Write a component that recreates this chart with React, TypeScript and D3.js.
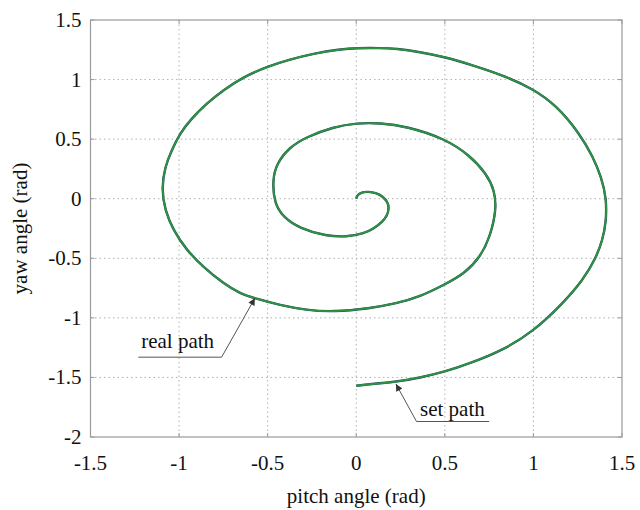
import React, { useEffect, useRef } from "react";
import * as d3 from "d3";

const pitch = [
  0.0, 0.005, 0.03, 0.067, 0.11, 0.15, 0.178, 0.185, 0.175, 0.15, 0.1, 0.04, -0.055, -0.168,
  -0.319, -0.413, -0.462, -0.473, -0.45, -0.375, -0.281, -0.131, 0.005, 0.133, 0.283, 0.499,
  0.64, 0.734, 0.781, 0.791, 0.755, 0.7, 0.61, 0.5, 0.358, 0.227, 0.076, -0.131, -0.281,
  -0.431, -0.572, -0.657, -0.751, -0.864, -0.958, -1.033, -1.08, -1.099, -1.08, -1.042, -0.995,
  -0.935, -0.845, -0.751, -0.638, -0.497, -0.375, -0.244, -0.093, 0.005, 0.133, 0.227, 0.358,
  0.499, 0.659, 0.828, 0.997, 1.129, 1.261, 1.336, 1.383, 1.413, 1.41, 1.39, 1.352, 1.279,
  1.166, 0.997, 0.828, 0.64, 0.499, 0.358, 0.227, 0.076, 0.0,
];
const yaw = [
  0.0, 0.03, 0.055, 0.06, 0.05, 0.02, -0.03, -0.08, -0.14, -0.19, -0.25, -0.295, -0.32, -0.315,
  -0.25, -0.153, -0.04, 0.155, 0.295, 0.435, 0.518, 0.602, 0.636, 0.636, 0.608, 0.505,
  0.365, 0.211, 0.071, -0.096, -0.32, -0.49, -0.63, -0.72, -0.824, -0.879, -0.921, -0.95, -0.935,
  -0.893, -0.837, -0.795, -0.711, -0.572, -0.432, -0.264, -0.096, 0.085, 0.267, 0.407, 0.547,
  0.665, 0.799, 0.91, 1.022, 1.112, 1.168, 1.218, 1.254, 1.265, 1.265, 1.26, 1.232,
  1.19, 1.12, 1.036, 0.924, 0.784, 0.547, 0.351, 0.183, 0.0, -0.2, -0.348, -0.502, -0.684,
  -0.879, -1.117, -1.271, -1.383, -1.453, -1.503, -1.537, -1.556, -1.57,
];

const xTicks = [-1.5, -1, -0.5, 0, 0.5, 1, 1.5];
const yTicks = [-2, -1.5, -1, -0.5, 0, 0.5, 1, 1.5];

const W = 640;
const H = 510;
const margin = { top: 20, right: 18, bottom: 73, left: 90.5 };
const FONT = "'Liberation Serif', 'Times New Roman', serif";

export default function App() {
  const ref = useRef<SVGSVGElement>(null);

  useEffect(() => {
    if (!ref.current) return;
    const svg = d3.select(ref.current);
    svg.selectAll("*").remove();

    const iw = W - margin.left - margin.right;
    const ih = H - margin.top - margin.bottom;

    const x = d3.scaleLinear().domain([-1.5, 1.5]).range([0, iw]);
    const y = d3.scaleLinear().domain([-2, 1.5]).range([ih, 0]);

    const defs = svg.append("defs");
    defs
      .append("marker")
      .attr("id", "arrow")
      .attr("viewBox", "0 0 10 10")
      .attr("refX", 10)
      .attr("refY", 5)
      .attr("markerWidth", 9)
      .attr("markerHeight", 7)
      .attr("markerUnits", "userSpaceOnUse")
      .attr("orient", "auto")
      .append("path")
      .attr("d", "M0,0 L10,5 L0,10 z")
      .attr("fill", "#333");

    const g = svg.append("g").attr("transform", `translate(${margin.left},${margin.top})`);

    // grid
    g.selectAll(".gx")
      .data(xTicks.slice(1, -1))
      .join("line")
      .attr("x1", (d) => x(d))
      .attr("x2", (d) => x(d))
      .attr("y1", 0)
      .attr("y2", ih)
      .attr("stroke", "#b0b0b0")
      .attr("stroke-dasharray", "1.5,3");
    g.selectAll(".gy")
      .data(yTicks.slice(1, -1))
      .join("line")
      .attr("y1", (d) => y(d))
      .attr("y2", (d) => y(d))
      .attr("x1", 0)
      .attr("x2", iw)
      .attr("stroke", "#b0b0b0")
      .attr("stroke-dasharray", "1.5,3");

    // frame
    g.append("rect")
      .attr("width", iw)
      .attr("height", ih)
      .attr("fill", "none")
      .attr("stroke", "#9a9a9a")
      .attr("stroke-width", 1.2);

    // tick marks inside, all four sides
    const tl = 4;
    xTicks.forEach((t) => {
      g.append("line").attr("x1", x(t)).attr("x2", x(t)).attr("y1", ih).attr("y2", ih - tl).attr("stroke", "#9a9a9a");
      g.append("line").attr("x1", x(t)).attr("x2", x(t)).attr("y1", 0).attr("y2", tl).attr("stroke", "#9a9a9a");
    });
    yTicks.forEach((t) => {
      g.append("line").attr("y1", y(t)).attr("y2", y(t)).attr("x1", 0).attr("x2", tl).attr("stroke", "#9a9a9a");
      g.append("line").attr("y1", y(t)).attr("y2", y(t)).attr("x1", iw).attr("x2", iw - tl).attr("stroke", "#9a9a9a");
    });

    // tick labels
    g.selectAll(".xl")
      .data(xTicks)
      .join("text")
      .attr("x", (d) => x(d))
      .attr("y", ih + 33)
      .attr("text-anchor", "middle")
      .attr("font-family", FONT)
      .attr("font-size", 21)
      .attr("fill", "#111")
      .text((d) => String(d));
    g.selectAll(".yl")
      .data(yTicks)
      .join("text")
      .attr("x", -9)
      .attr("y", (d) => y(d) + 7)
      .attr("text-anchor", "end")
      .attr("font-family", FONT)
      .attr("font-size", 21)
      .attr("fill", "#111")
      .text((d) => String(d));

    // axis titles
    g.append("text")
      .attr("x", iw / 2)
      .attr("y", ih + 66)
      .attr("text-anchor", "middle")
      .attr("font-family", FONT)
      .attr("font-size", 21)
      .attr("fill", "#111")
      .text("pitch angle (rad)");
    g.append("text")
      .attr("transform", `translate(${-margin.left + 27},${ih / 2}) rotate(-90)`)
      .attr("text-anchor", "middle")
      .attr("font-family", FONT)
      .attr("font-size", 21)
      .attr("fill", "#111")
      .text("yaw angle (rad)");

    // paths
    const pts: [number, number][] = pitch.map((p, i) => [p, yaw[i]]);
    const line = d3
      .line<[number, number]>()
      .x((d) => x(d[0]))
      .y((d) => y(d[1]))
      .curve(d3.curveBasis);

    g.append("path")
      .attr("d", line(pts))
      .attr("fill", "none")
      .attr("stroke", "#1f4d55")
      .attr("stroke-width", 2.4);
    g.append("path")
      .attr("d", line(pts))
      .attr("fill", "none")
      .attr("stroke", "#2e9342")
      .attr("stroke-width", 1.8);

    // annotations
    const annot = (
      label: string,
      tx: number,
      ty: number,
      ux0: number,
      ux1: number,
      uy: number,
      from: [number, number],
      tip: [number, number]
    ) => {
      g.append("line")
        .attr("x1", x(ux0))
        .attr("x2", x(ux1))
        .attr("y1", y(uy))
        .attr("y2", y(uy))
        .attr("stroke", "#555")
        .attr("stroke-width", 1);
      g.append("line")
        .attr("x1", x(from[0]))
        .attr("y1", y(from[1]))
        .attr("x2", x(tip[0]))
        .attr("y2", y(tip[1]))
        .attr("stroke", "#555")
        .attr("stroke-width", 1)
        .attr("marker-end", "url(#arrow)");
      g.append("text")
        .attr("x", x(tx))
        .attr("y", y(ty))
        .attr("font-family", FONT)
        .attr("font-size", 21)
        .attr("fill", "#111")
        .text(label);
    };

    annot("real path", -1.214, -1.253, -1.23, -0.76, -1.33, [-0.76, -1.33], [-0.572, -0.835]);
    annot("set path", 0.36, -1.82, 0.34, 0.75, -1.87, [0.34, -1.87], [0.224, -1.555]);
  }, []);

  return (
    <svg
      ref={ref}
      width={W}
      height={H}
      style={{ position: "absolute", left: 0, top: 0, background: "#fff" }}
    />
  );
}
